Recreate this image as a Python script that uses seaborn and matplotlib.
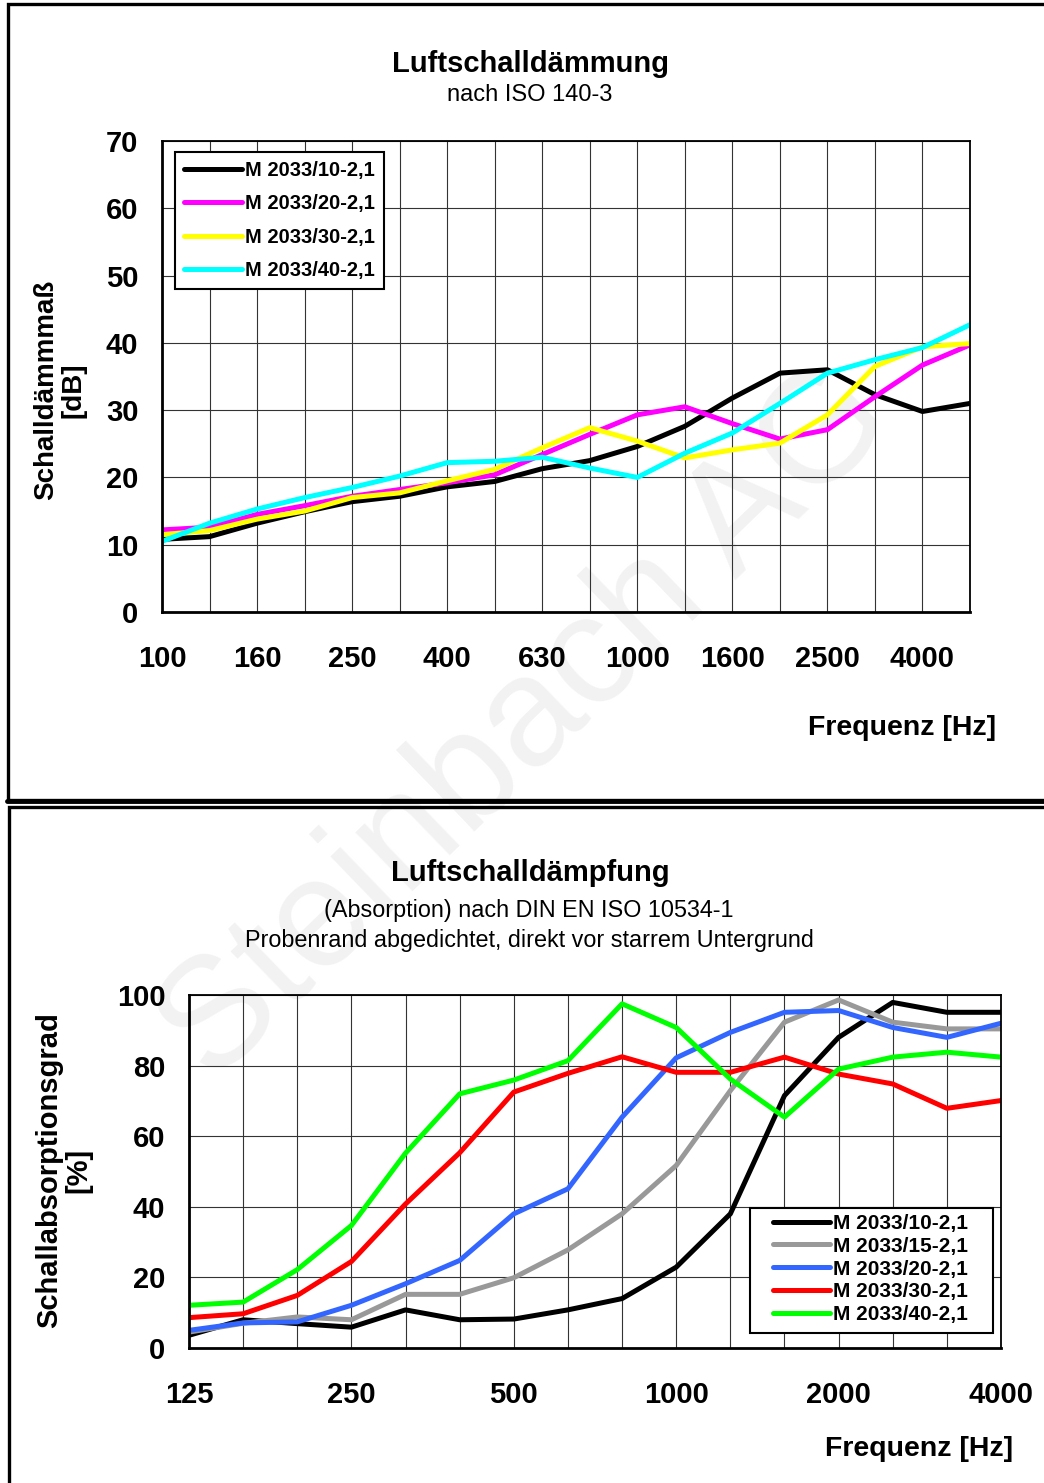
import numpy as np
import pandas as pd
import matplotlib
matplotlib.use("Agg")
import matplotlib.pyplot as plt
from matplotlib.patches import Rectangle
from matplotlib.lines import Line2D
import seaborn as sns

# ---------------- data ----------------
top_freqs = [100, 125, 160, 200, 250, 315, 400, 500, 630, 800, 1000, 1250, 1600, 2000, 2500, 3150, 4000, 5000]
top_tick_labels = ["100", "160", "250", "400", "630", "1000", "1600", "2500", "4000"]
top_names = ["M 2033/10-2,1", "M 2033/20-2,1", "M 2033/30-2,1", "M 2033/40-2,1"]
top_colors = ["#000000", "#FF00FF", "#FFFF00", "#00FFFF"]
top_m10 = [10.8, 11.2, 13.2, 14.9, 16.4, 17.2, 18.6, 19.4, 21.3, 22.5, 24.6, 27.6, 31.8, 35.5, 36.0, 32.3, 29.8, 31.0]
top_m20 = [12.2, 12.6, 14.5, 15.8, 17.2, 18.2, 19.2, 20.4, 23.4, 26.4, 29.3, 30.5, 28.0, 25.7, 27.1, 32.0, 36.7, 39.7]
top_m30 = [11.5, 12.1, 13.8, 15.0, 17.0, 17.7, 19.5, 21.2, 24.4, 27.4, 25.4, 22.9, 24.1, 25.1, 29.3, 36.5, 39.4, 39.9]
top_m40 = [10.5, 13.2, 15.3, 17.0, 18.5, 20.2, 22.2, 22.4, 23.0, 21.4, 20.0, 23.6, 26.6, 31.0, 35.5, 37.5, 39.3, 42.7]

bot_freqs = [125, 160, 200, 250, 315, 400, 500, 630, 800, 1000, 1250, 1600, 2000, 2500, 3150, 4000]
bot_tick_labels = ["125", "250", "500", "1000", "2000", "4000"]
bot_names = ["M 2033/10-2,1", "M 2033/15-2,1", "M 2033/20-2,1", "M 2033/30-2,1", "M 2033/40-2,1"]
bot_colors = ["#000000", "#999999", "#3366FF", "#FF0000", "#00FF00"]
bot_m10 = [3.6, 8.0, 6.9, 5.9, 10.8, 8.0, 8.2, 10.8, 14.0, 22.9, 38.0, 71.5, 88.0, 97.9, 95.1, 95.1]
bot_m15 = [4.5, 7.0, 8.8, 8.0, 15.2, 15.2, 19.9, 27.8, 38.0, 51.7, 72.9, 92.3, 98.6, 92.3, 90.4, 90.4]
bot_m20 = [5.0, 7.1, 7.4, 12.1, 18.2, 24.8, 38.0, 45.1, 65.4, 82.2, 89.4, 95.1, 95.6, 90.8, 88.0, 92.0]
bot_m30 = [8.6, 9.7, 14.9, 24.5, 40.8, 55.3, 72.5, 77.8, 82.5, 78.1, 78.1, 82.4, 77.6, 74.8, 67.9, 70.1]
bot_m40 = [12.1, 13.0, 22.2, 34.7, 55.2, 72.0, 75.9, 81.4, 97.5, 90.8, 76.2, 65.4, 79.0, 82.4, 83.8, 82.4]

# ---------------- style ----------------
sns.set_style("white")
plt.rcParams["font.family"] = ["Liberation Sans", "DejaVu Sans"]
plt.rcParams["text.color"] = "black"
plt.rcParams["axes.labelcolor"] = "black"
plt.rcParams["xtick.color"] = "black"
plt.rcParams["ytick.color"] = "black"

W, H = 1044, 1483
fig = plt.figure(figsize=(W / 100, H / 100), dpi=100)

def fx(px):
    return px / W

def fy(py):
    return 1 - py / H

# watermark
fig.text(fx(527), fy(725), "Steinbach AG", rotation=44, fontsize=112, color="#f2f2f2",
         ha="center", va="center", zorder=-5)

# panel frames
fig.add_artist(Rectangle((fx(7.5), fy(799.5)), fx(1100), fy(4) - fy(799.5), fill=False,
                         edgecolor="black", linewidth=2.4, transform=fig.transFigure, zorder=-1))
fig.add_artist(Line2D([fx(7), fx(1044)], [fy(800.5), fy(800.5)], color="black", linewidth=3.5,
                      transform=fig.transFigure))
fig.add_artist(Rectangle((fx(8.5), fy(1500)), fx(1100), fy(807) - fy(1500), fill=False,
                         edgecolor="black", linewidth=2.4, transform=fig.transFigure, zorder=-1))


def style_axes(ax, n, label_idx, labels, ylim, yticks):
    ax.set_facecolor("none")
    ax.set_xlim(0, n - 1)
    ax.set_ylim(*ylim)
    ax.set_xticks(np.arange(n), minor=True)
    ax.set_xticks(label_idx)
    ax.set_xticklabels(labels)
    ax.set_yticks(yticks)
    ax.grid(True, which="both", axis="x", color="#333333", linewidth=0.8)
    ax.grid(True, which="major", axis="y", color="#333333", linewidth=0.8)
    ax.tick_params(axis="x", which="both", direction="out", length=8, width=1.2, color="black")
    ax.tick_params(axis="x", which="major", pad=16, labelsize=21)
    ax.tick_params(axis="y", which="major", direction="out", length=8, width=1.2, color="black",
                   pad=9, labelsize=21)
    for lab in ax.get_xticklabels() + ax.get_yticklabels():
        lab.set_fontweight("bold")
    for side in ["left", "bottom"]:
        ax.spines[side].set_linewidth(2.0)
        ax.spines[side].set_color("black")
        ax.spines[side].set_visible(True)
    for side in ["top", "right"]:
        ax.spines[side].set_linewidth(1.3)
        ax.spines[side].set_color("black")
        ax.spines[side].set_visible(True)
    ax.set_xlabel("")
    ax.set_ylabel("")


# ---------------- top chart ----------------
ax1 = fig.add_axes([fx(162), fy(612), fx(970) - fx(162), fy(141) - fy(612)])
top_df = pd.DataFrame({
    "idx": np.tile(np.arange(len(top_freqs)), 4),
    "freq": top_freqs * 4,
    "value": top_m10 + top_m20 + top_m30 + top_m40,
    "series": np.repeat(top_names, len(top_freqs)),
})
sns.lineplot(data=top_df, x="idx", y="value", hue="series", palette=dict(zip(top_names, top_colors)),
             linewidth=3.6, ax=ax1, legend=False, sort=False)
style_axes(ax1, len(top_freqs), list(range(0, 17, 2)), top_tick_labels, (0, 70), range(0, 71, 10))
handles = [Line2D([], [], color=c, linewidth=3.6) for c in top_colors]
leg1 = ax1.legend(handles, top_names, loc="upper left", bbox_to_anchor=(0.016, 0.977), borderaxespad=0,
                  frameon=True, fancybox=False, framealpha=1, edgecolor="black",
                  prop={"weight": "bold", "size": 14.5}, handlelength=2.9, handletextpad=0.15,
                  labelspacing=0.72, borderpad=0.45)
leg1.get_frame().set_linewidth(1.5)

fig.text(fx(530), fy(64), "Luftschalldämmung", ha="center", va="center", fontsize=21, fontweight="bold")
fig.text(fx(530), fy(95), "nach ISO 140-3", ha="center", va="center", fontsize=17)
fig.text(fx(60), fy(390), "Schalldämmmaß\n[dB]", rotation=90, ha="center", va="center",
         fontsize=20, fontweight="bold", multialignment="center", linespacing=1.05)
fig.text(fx(996), fy(728), "Frequenz [Hz]", ha="right", va="center", fontsize=20.5, fontweight="bold")

# ---------------- bottom chart ----------------
ax2 = fig.add_axes([fx(189), fy(1348), fx(1001) - fx(189), fy(995) - fy(1348)])
bot_df = pd.DataFrame({
    "idx": np.tile(np.arange(len(bot_freqs)), 5),
    "freq": bot_freqs * 5,
    "value": bot_m10 + bot_m15 + bot_m20 + bot_m30 + bot_m40,
    "series": np.repeat(bot_names, len(bot_freqs)),
})
sns.lineplot(data=bot_df, x="idx", y="value", hue="series", palette=dict(zip(bot_names, bot_colors)),
             linewidth=3.6, ax=ax2, legend=False, sort=False)
style_axes(ax2, len(bot_freqs), list(range(0, 16, 3)), bot_tick_labels, (0, 100), range(0, 101, 20))

# legend box (drawn separately to get the wider side padding of the original)
ax_w, ax_h = 1001 - 189, 1348 - 995
ax2.add_patch(Rectangle(((750 - 189) / ax_w, (1348 - 1333) / ax_h), (993 - 750) / ax_w, (1333 - 1208) / ax_h,
                        transform=ax2.transAxes, facecolor="white", edgecolor="black", linewidth=1.5,
                        zorder=4.5, clip_on=False))
handles2 = [Line2D([], [], color=c, linewidth=3.6) for c in bot_colors]
leg2 = ax2.legend(handles2, bot_names, loc="upper left",
                  bbox_to_anchor=((773 - 189) / ax_w, (1348 - 1214) / ax_h), borderaxespad=0,
                  frameon=False, prop={"weight": "bold", "size": 15}, handlelength=2.75,
                  handletextpad=0.15, labelspacing=0.18, borderpad=0)
leg2.set_zorder(5)

fig.text(fx(530), fy(873), "Luftschalldämpfung", ha="center", va="center", fontsize=21, fontweight="bold")
fig.text(fx(529), fy(910), "(Absorption) nach DIN EN ISO 10534-1", ha="center", va="center", fontsize=16.8)
fig.text(fx(529), fy(940), "Probenrand abgedichtet, direkt vor starrem Untergrund", ha="center",
         va="center", fontsize=16.8)
fig.text(fx(64), fy(1170), "Schallabsorptionsgrad\n[%]", rotation=90, ha="center", va="center",
         fontsize=21, fontweight="bold", multialignment="center", linespacing=1.05)
fig.text(fx(1013), fy(1449), "Frequenz [Hz]", ha="right", va="center", fontsize=20.5, fontweight="bold")

fig.savefig("out.png", dpi=100, facecolor="white")
